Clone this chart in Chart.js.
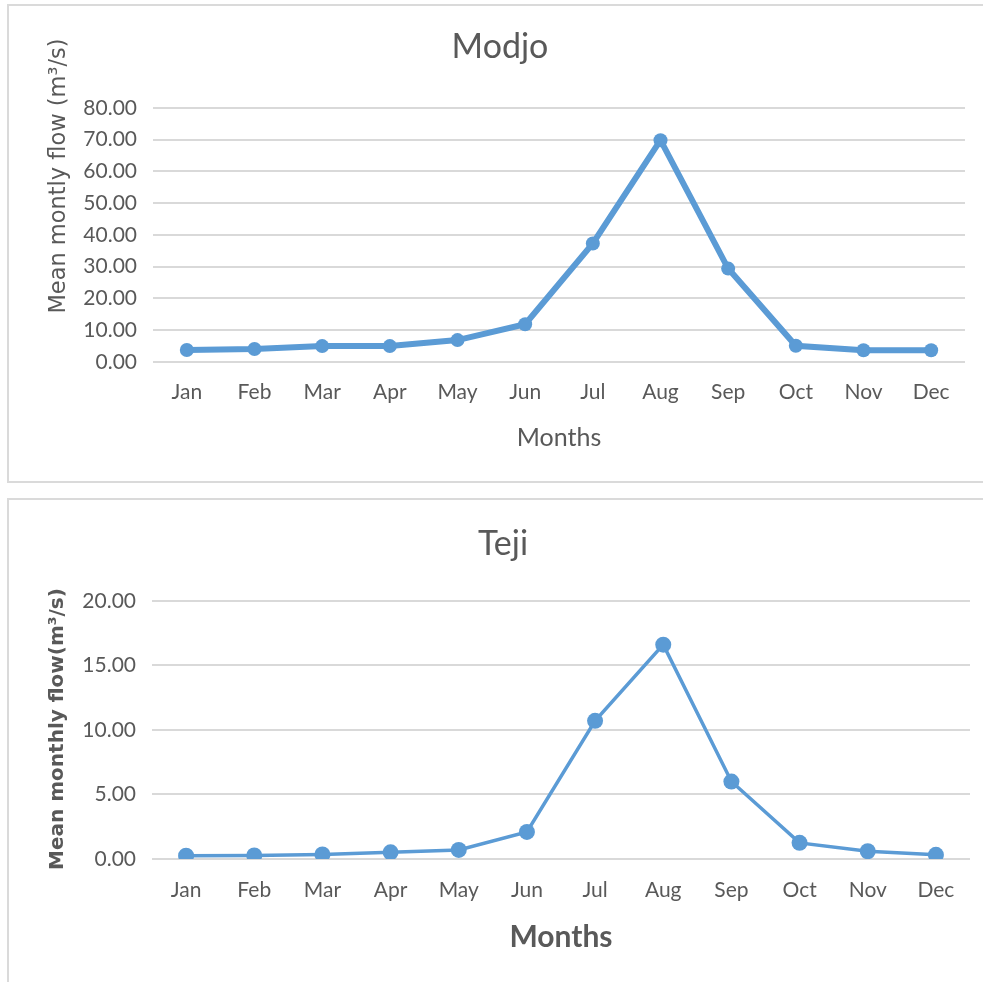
<!DOCTYPE html>
<html lang="en">
<head>
    <meta charset="UTF-8">
    <title>Modjo / Teji mean monthly flow</title>
    <style>
        body {
            margin: 0;
            padding: 0;
            background: #ffffff;
            width: 983px;
            height: 982px;
            overflow: hidden;
            position: relative;
        }

        .box {
            position: absolute;
            left: 7px;
            width: 984px;
            border: 2px solid #dadada;
            box-sizing: border-box;
        }

        #box1 { top: 4px; height: 479px; }
        #box2 { top: 498px; height: 500px; }

        .chart-wrap {
            position: absolute;
            left: 9px;
            width: 974px;
        }

        #wrap1 { top: 6px; height: 474px; }
        #wrap2 { top: 500px; height: 482px; }
    </style>
</head>
<body>
    <div class="box" id="box1"></div>
    <div class="box" id="box2"></div>
    <div class="chart-wrap" id="wrap1"><canvas id="modjoChart"></canvas></div>
    <div class="chart-wrap" id="wrap2"><canvas id="tejiChart"></canvas></div>

    <script src="https://cdn.jsdelivr.net/npm/chart.js"></script>
    <script>
        const months = ['Jan', 'Feb', 'Mar', 'Apr', 'May', 'Jun', 'Jul', 'Aug', 'Sep', 'Oct', 'Nov', 'Dec'];
        const modjoFlow = [3.8, 4.1, 5.0, 5.0, 6.9, 11.9, 37.3, 69.8, 29.4, 5.1, 3.7, 3.7];
        const tejiFlow = [0.25, 0.27, 0.35, 0.52, 0.7, 2.1, 10.7, 16.6, 6.0, 1.25, 0.6, 0.32];
        const modjoAxis = { max: 80, step: 10 };
        const tejiAxis = { max: 20, step: 5 };

        const lineBlue = '#5b9bd5';
        const textGrey = '#595959';
        const gridGrey = '#d9d9d9';

        // rotated y axis title, drawn where the original puts it
        const yTitlePlugin = {
            id: 'yTitle',
            afterDraw(chart, args, opts) {
                const ctx = chart.ctx;
                ctx.save();
                ctx.translate(opts.x, opts.y);
                ctx.rotate(-Math.PI / 2);
                ctx.font = opts.font;
                ctx.fillStyle = textGrey;
                ctx.textAlign = 'center';
                ctx.textBaseline = 'middle';
                ctx.fillText(opts.text, 0, 0);
                ctx.restore();
            }
        };

        function makeChart(id, title, data, axis, cfg) {
            const ctx = document.getElementById(id).getContext('2d');
            return new Chart(ctx, {
                type: 'line',
                data: {
                    labels: months,
                    datasets: [{
                        label: title,
                        data: data,
                        borderColor: lineBlue,
                        backgroundColor: lineBlue,
                        borderWidth: cfg.lineWidth,
                        pointRadius: cfg.pointRadius,
                        pointBorderWidth: 0,
                        pointBackgroundColor: lineBlue,
                        tension: 0,
                        fill: false
                    }]
                },
                options: {
                    responsive: true,
                    maintainAspectRatio: false,
                    animation: false,
                    layout: {
                        padding: { left: cfg.padLeft, right: cfg.padRight, top: 0, bottom: cfg.padBottom }
                    },
                    plugins: {
                        legend: { display: false },
                        tooltip: { enabled: false },
                        title: {
                            display: true,
                            text: title,
                            color: textGrey,
                            font: { family: 'Lato', size: 34, weight: 'normal' },
                            padding: { top: cfg.titleTop, bottom: cfg.titleBottom }
                        },
                        yTitle: cfg.yTitle
                    },
                    scales: {
                        x: {
                            offset: true,
                            grid: { display: false, drawTicks: false },
                            border: { display: false },
                            ticks: {
                                color: textGrey,
                                font: { family: 'Lato', size: 21, lineHeight: 1 },
                                padding: cfg.xTickPad,
                                maxRotation: 0
                            },
                            title: {
                                display: true,
                                text: 'Months',
                                color: textGrey,
                                font: cfg.xTitleFont,
                                padding: { top: cfg.xTitlePad, bottom: 0 }
                            }
                        },
                        y: {
                            min: 0,
                            max: axis.max,
                            afterFit: (scale) => { scale.width = cfg.yWidth; },
                            grid: { color: gridGrey, lineWidth: 2, drawTicks: false },
                            border: { display: false },
                            ticks: {
                                stepSize: axis.step,
                                color: textGrey,
                                font: { family: 'Lato', size: 21 },
                                padding: 16,
                                callback: (v) => v.toFixed(2)
                            }
                        }
                    }
                },
                plugins: [yTitlePlugin]
            });
        }

        makeChart('modjoChart', 'Modjo', modjoFlow, modjoAxis, {
            lineWidth: 6,
            pointRadius: 7,
            padLeft: 26,
            padRight: 18,
            padBottom: 30,
            titleTop: 21,
            titleBottom: 40,
            xTickPad: 19.5,
            xTitlePad: 3,
            xTitleFont: { family: 'Lato', size: 25, weight: 'normal', lineHeight: 1 },
            yWidth: 118,
            yTitle: { text: 'Mean montly flow (m\u00b3/s)', x: 50, y: 170, font: '22.5px "DejaVu Sans"' }
        });

        makeChart('tejiChart', 'Teji', tejiFlow, tejiAxis, {
            lineWidth: 3.5,
            pointRadius: 8,
            padLeft: 27,
            padRight: 13,
            padBottom: 30,
            titleTop: 24,
            titleBottom: 36,
            xTickPad: 21,
            xTitlePad: 0,
            xTitleFont: { family: 'Lato', size: 30, weight: 'bold', lineHeight: 1 },
            yWidth: 116,
            yTitle: { text: 'Mean monthly flow(m\u00b3/s)', x: 49, y: 229, font: 'bold 20px "DejaVu Sans"' }
        });
    </script>
</body>
</html>
